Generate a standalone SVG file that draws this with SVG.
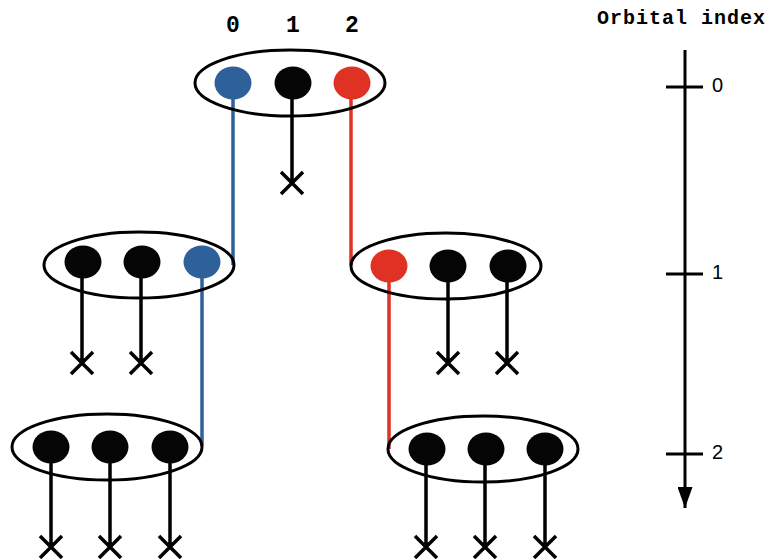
<svg xmlns="http://www.w3.org/2000/svg" width="770" height="559" viewBox="0 0 770 559">
<defs>
<style>
.ell{fill:none;stroke:#000;stroke-width:3}
.b{fill:#050505}
.bl{fill:#2E619A}
.rd{fill:#E03125}
.ln{stroke:#000;stroke-width:3.5;fill:none}
.lb{stroke:#2E619A;stroke-width:3.5;fill:none}
.lr{stroke:#E03125;stroke-width:3.5;fill:none}
.idx{font-family:"Liberation Mono",monospace;font-weight:bold;font-size:23px;text-anchor:middle}
.ax{font-family:"Liberation Sans",Arial,sans-serif;font-size:20px}
</style>
<marker id="arr" viewBox="0 0 21 15" refX="21" refY="7.5" markerWidth="21" markerHeight="15" markerUnits="userSpaceOnUse" orient="auto">
<path d="M0,0 L21,7.5 L0,15 Z" fill="#000"/>
</marker>
</defs>

<g id="connectors">
<line class="lb" x1="233" y1="83" x2="233" y2="265"/>
<line class="lr" x1="351" y1="83" x2="351" y2="265"/>
<line class="lb" x1="202" y1="264" x2="202" y2="446"/>
<line class="lr" x1="389" y1="266" x2="389" y2="449"/>
<path class="ln" d="M292,83 V183 M281,172 L303,194 M303,172 L281,194"/>
<path class="ln" d="M82,263 V363 M71,352 L93,374 M93,352 L71,374"/>
<path class="ln" d="M141,263 V363 M130,352 L152,374 M152,352 L130,374"/>
<path class="ln" d="M448,266 V363 M437,352 L459,374 M459,352 L437,374"/>
<path class="ln" d="M507,266 V363 M496,352 L518,374 M518,352 L496,374"/>
<path class="ln" d="M51,447 V547 M40,536 L62,558 M62,536 L40,558"/>
<path class="ln" d="M110,447 V547 M99,536 L121,558 M121,536 L99,558"/>
<path class="ln" d="M170,447 V547 M159,536 L181,558 M181,536 L159,558"/>
<path class="ln" d="M426,449 V547 M415,536 L437,558 M437,536 L415,558"/>
<path class="ln" d="M485,449 V547 M474,536 L496,558 M496,536 L474,558"/>
<path class="ln" d="M545,449 V547 M534,536 L556,558 M556,536 L534,558"/>
</g>

<g id="node-top">
<ellipse class="ell" cx="290" cy="83" rx="95" ry="33"/>
<ellipse class="bl" cx="233" cy="83" rx="18.5" ry="16.5"/>
<ellipse class="b" cx="293" cy="83" rx="18.5" ry="16.5"/>
<ellipse class="rd" cx="352" cy="83" rx="18.5" ry="16.5"/>
</g>

<g id="node-l1-left">
<ellipse class="ell" cx="139" cy="265" rx="95" ry="33"/>
<ellipse class="b" cx="83" cy="262" rx="18.5" ry="16.5"/>
<ellipse class="b" cx="142" cy="262" rx="18.5" ry="16.5"/>
<ellipse class="bl" cx="202" cy="262" rx="18.5" ry="16.5"/>
</g>

<g id="node-l1-right">
<ellipse class="ell" cx="446" cy="266" rx="95" ry="33"/>
<ellipse class="rd" cx="389" cy="266" rx="18.5" ry="16.5"/>
<ellipse class="b" cx="448" cy="266" rx="18.5" ry="16.5"/>
<ellipse class="b" cx="508" cy="266" rx="18.5" ry="16.5"/>
</g>

<g id="node-l2-left">
<ellipse class="ell" cx="107" cy="447" rx="95" ry="33"/>
<ellipse class="b" cx="51" cy="447" rx="18.5" ry="16.5"/>
<ellipse class="b" cx="110" cy="447" rx="18.5" ry="16.5"/>
<ellipse class="b" cx="170" cy="447" rx="18.5" ry="16.5"/>
</g>

<g id="node-l2-right">
<ellipse class="ell" cx="483" cy="449" rx="95" ry="33"/>
<ellipse class="b" cx="427" cy="449" rx="18.5" ry="16.5"/>
<ellipse class="b" cx="486" cy="449" rx="18.5" ry="16.5"/>
<ellipse class="b" cx="545" cy="449" rx="18.5" ry="16.5"/>
</g>

<g id="labels">
<text class="idx" x="233" y="32">0</text>
<text class="idx" x="293" y="32">1</text>
<text class="idx" x="352" y="32">2</text>
</g>

<g id="axis">
<text x="597" y="24" font-family="Liberation Mono,monospace" font-weight="bold" font-size="20" textLength="168" lengthAdjust="spacing">Orbital index</text>
<line x1="685" y1="50" x2="685" y2="508" stroke="#000" stroke-width="3" marker-end="url(#arr)"/>
<line x1="666" y1="87" x2="703" y2="87" stroke="#000" stroke-width="3"/>
<line x1="666" y1="274" x2="703" y2="274" stroke="#000" stroke-width="3"/>
<line x1="666" y1="454" x2="703" y2="454" stroke="#000" stroke-width="3"/>
<text class="ax" x="712" y="92">0</text>
<text class="ax" x="712" y="279">1</text>
<text class="ax" x="712" y="459">2</text>
</g>
</svg>
